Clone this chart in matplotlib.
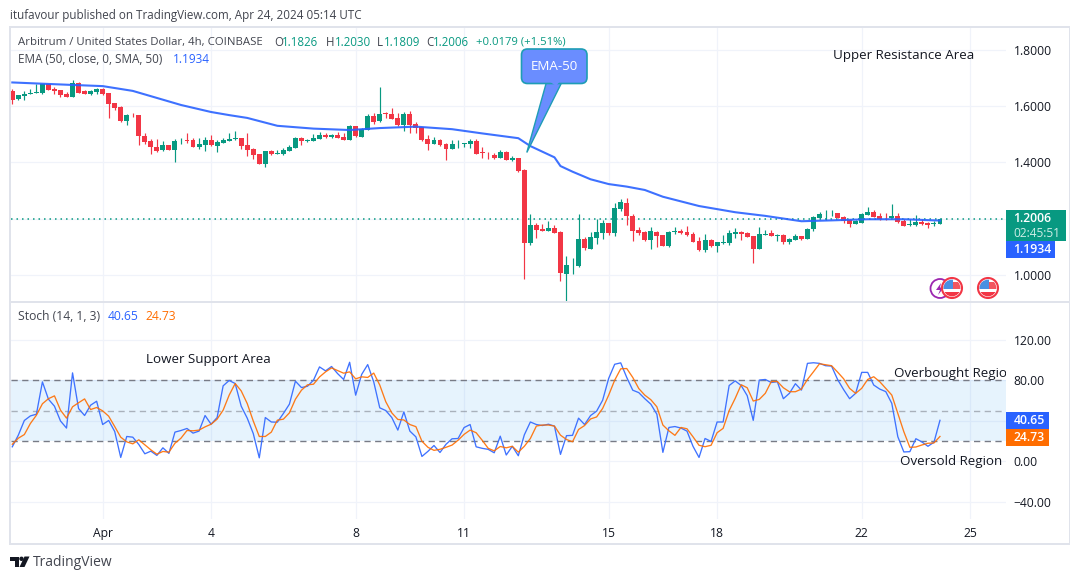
import matplotlib
matplotlib.use("Agg")
import matplotlib.pyplot as plt
from matplotlib.patches import FancyBboxPatch, Polygon, Circle, Rectangle
import numpy as np

plt.rcParams['font.family'] = ['Open Sans', 'DejaVu Sans']

opens = [1.653,1.625,1.637,1.644,1.647,1.646,1.678,1.660,1.657,1.643,
 1.632,1.682,1.653,1.643,1.650,1.660,1.646,1.611,1.596,1.547,
 1.570,1.568,1.494,1.476,1.454,1.444,1.462,1.444,1.475,1.478,
 1.478,1.454,1.462,1.478,1.458,1.469,1.476,1.483,1.486,1.462,
 1.447,1.430,1.394,1.440,1.430,1.430,1.440,1.451,1.486,1.476,
 1.476,1.483,1.497,1.490,1.497,1.490,1.479,1.529,1.491,1.516,
 1.566,1.548,1.575,1.573,1.558,1.533,1.573,1.537,1.526,1.484,
 1.466,1.480,1.466,1.448,1.465,1.467,1.466,1.477,1.436,1.431,
 1.427,1.416,1.438,1.410,1.417,1.373,1.115,1.178,1.163,1.156,
 1.167,1.153,1.004,1.034,1.032,1.128,1.092,1.131,1.149,1.185,
 1.149,1.234,1.256,1.210,1.160,1.153,1.124,1.153,1.142,1.103,
 1.153,1.156,1.152,1.145,1.120,1.088,1.124,1.102,1.113,1.113,
 1.145,1.152,1.149,1.138,1.092,1.141,1.149,1.139,1.141,1.117,
 1.124,1.138,1.127,1.163,1.202,1.215,1.215,1.220,1.205,1.195,
 1.180,1.184,1.212,1.223,1.209,1.204,1.202,1.209,1.191,1.177,
 1.177,1.188,1.184,1.180,1.1826]
highs = [1.660,1.639,1.653,1.660,1.678,1.679,1.680,1.667,1.657,1.650,
 1.693,1.685,1.657,1.657,1.664,1.664,1.646,1.611,1.600,1.572,
 1.575,1.568,1.504,1.483,1.483,1.476,1.462,1.483,1.485,1.503,
 1.485,1.485,1.489,1.496,1.478,1.485,1.503,1.510,1.486,1.504,
 1.451,1.430,1.440,1.444,1.444,1.451,1.462,1.490,1.490,1.483,
 1.501,1.508,1.504,1.501,1.508,1.504,1.533,1.529,1.523,1.573,
 1.577,1.669,1.580,1.594,1.576,1.580,1.584,1.544,1.526,1.498,
 1.491,1.484,1.470,1.480,1.480,1.470,1.484,1.484,1.456,1.438,
 1.434,1.443,1.441,1.423,1.417,1.376,1.217,1.184,1.180,1.191,
 1.176,1.155,1.068,1.059,1.217,1.134,1.154,1.198,1.194,1.185,
 1.256,1.270,1.273,1.217,1.171,1.156,1.171,1.156,1.142,1.156,
 1.171,1.163,1.173,1.152,1.134,1.145,1.127,1.117,1.141,1.159,
 1.166,1.156,1.152,1.138,1.170,1.159,1.159,1.145,1.145,1.131,
 1.145,1.138,1.166,1.209,1.223,1.230,1.230,1.220,1.209,1.198,
 1.195,1.220,1.241,1.230,1.220,1.220,1.252,1.220,1.198,1.198,
 1.212,1.198,1.188,1.191,1.2030]
lows = [1.607,1.621,1.621,1.644,1.647,1.643,1.657,1.643,1.632,1.632,
 1.632,1.646,1.643,1.639,1.643,1.639,1.557,1.586,1.543,1.533,
 1.561,1.462,1.465,1.430,1.437,1.440,1.444,1.401,1.465,1.469,
 1.454,1.447,1.440,1.458,1.437,1.469,1.476,1.479,1.447,1.423,
 1.412,1.394,1.383,1.426,1.430,1.426,1.440,1.451,1.462,1.472,
 1.476,1.483,1.486,1.486,1.486,1.479,1.479,1.490,1.491,1.516,
 1.537,1.544,1.558,1.555,1.530,1.512,1.505,1.505,1.477,1.445,
 1.466,1.458,1.409,1.448,1.451,1.455,1.451,1.431,1.417,1.413,
 1.413,1.416,1.409,1.406,1.366,0.986,1.108,1.131,1.158,1.156,
 1.149,0.980,0.909,1.004,1.030,1.089,1.092,1.110,1.128,1.142,
 1.139,1.227,1.178,1.121,1.142,1.121,1.092,1.100,1.103,1.100,
 1.146,1.146,1.138,1.117,1.085,1.081,1.099,1.081,1.110,1.106,
 1.131,1.124,1.134,1.042,1.092,1.141,1.138,1.120,1.110,1.110,
 1.124,1.124,1.127,1.156,1.198,1.195,1.209,1.202,1.184,1.170,
 1.180,1.184,1.212,1.205,1.195,1.195,1.202,1.184,1.173,1.173,
 1.173,1.177,1.166,1.173,1.1809]
closes = [1.621,1.639,1.644,1.646,1.650,1.678,1.657,1.653,1.639,1.632,
 1.682,1.646,1.643,1.653,1.660,1.643,1.607,1.593,1.547,1.568,
 1.567,1.494,1.472,1.454,1.440,1.462,1.444,1.476,1.477,1.476,
 1.454,1.465,1.478,1.462,1.472,1.478,1.483,1.485,1.458,1.444,
 1.426,1.394,1.440,1.430,1.432,1.444,1.454,1.486,1.476,1.479,
 1.486,1.497,1.490,1.497,1.486,1.479,1.529,1.494,1.519,1.566,
 1.544,1.573,1.573,1.555,1.533,1.573,1.533,1.523,1.480,1.467,
 1.480,1.462,1.448,1.466,1.467,1.469,1.477,1.431,1.433,1.429,
 1.416,1.438,1.409,1.417,1.369,1.113,1.176,1.160,1.158,1.167,
 1.149,1.008,1.036,1.036,1.127,1.096,1.134,1.153,1.185,1.149,
 1.238,1.259,1.208,1.156,1.149,1.124,1.156,1.139,1.103,1.153,
 1.155,1.149,1.141,1.117,1.088,1.124,1.102,1.117,1.117,1.149,
 1.152,1.145,1.134,1.092,1.145,1.145,1.138,1.143,1.117,1.127,
 1.138,1.127,1.163,1.205,1.216,1.217,1.217,1.202,1.191,1.180,
 1.191,1.216,1.223,1.205,1.198,1.202,1.209,1.188,1.173,1.180,
 1.188,1.180,1.177,1.184,1.2006]

ema_bars = [0,9,15,20,24,28,33,36,39,44,50,56,61,67,73,78,84,86,90,91,93,96,99,102,105,108,114,117,120,125,131,136,142,148,154]
ema_vals = [1.684,1.676,1.671,1.654,1.629,1.604,1.579,1.568,1.558,1.530,1.520,1.515,1.522,1.527,1.518,1.503,1.486,
            1.458,1.418,1.387,1.367,1.340,1.323,1.314,1.302,1.278,1.245,1.234,1.223,1.210,1.191,1.194,1.198,1.198,1.1934]

stoch_k = [14.5,26,40.5,45,46.7,78.6,61.5,54.6,40,33,
 87.5,52.3,45.4,55.6,59.5,36.5,40.5,29.6,4,24.7,
 24,16.8,7.6,10.2,6,13.5,8,29,30.6,32.6,
 28,30,45.4,36.8,43.4,74.7,80,77,54.6,42.8,
 27.6,3.6,43.4,39,38.8,47.4,56.6,79.3,73,74.3,
 80.3,93.4,89.5,93.8,86.8,81,98,65.5,86,95.7,
 78.6,53,50.3,43.4,31,49,30,24.3,5,10,
 15.8,8.9,17,22.4,22.7,33.5,36.5,14.5,13,12,
 8.6,25,6.4,15,5.7,26.3,39,36.5,35.5,36.8,
 34.9,7,25.5,25.8,42.8,36.5,45.4,49.7,60.5,82,
 96,97.4,83,70.4,68,62,56.6,46.7,9,33.6,
 34.5,33,30,15,4,22.7,19.8,39,39,75,
 79.6,75,65,40.6,80.4,81,78,78.8,62,67.3,
 76.8,70.5,96.9,97.5,96.9,94.6,94.2,81,71,62,
 67.3,88,88,75.5,71.5,69,57.4,24.5,9.4,9.7,
 22.5,19.3,15,19,40.65]
stoch_d = [17,23,26.6,37.5,45.7,57,62,64.8,50.7,42.8,
 54,58,61.8,51.3,53.3,50,44.7,34.5,24,19.4,
 17.4,21.4,16.4,11.5,7.2,9.9,9.2,18,23,30.6,
 30.3,31,34.2,36.8,41.8,50.7,65.5,77,69.7,57.2,
 40,24.7,24.7,29,40.8,41.8,48,61.5,70.4,75.7,
 76.3,83.5,88.5,92.4,89.8,87.2,88.5,81.6,83.6,83,
 87.3,75.5,59,48,41.5,41,36.5,34.4,20,14,
 11,12,14,16.2,21,26.8,31,28.4,21,13,
 10.5,14.8,13.5,15,9.2,15,22.7,35,36,36,
 35,26,21.7,19.5,31.6,35.5,42,44,52.4,65.5,
 80.3,91.5,91.8,83,72,65.5,61,54,36,30.3,
 25.8,33.6,32.3,24.4,16,14.6,16,28.4,32.7,50.2,
 62.3,75.8,72.8,59.7,61.3,67.3,79,79,72.8,68.9,
 68.9,71.5,81,88.6,96.5,95.5,94.6,88.3,81.7,72.2,
 67.3,72.2,81,83.7,78.8,72.2,65.6,47.5,29.4,14,
 14.3,16.3,18,18.3,24.73]

price_ticks = [1.0, 1.2, 1.4, 1.6, 1.8]
price_tick_labels = ["1.0000", "", "1.4000", "1.6000", "1.8000"]
stoch_ticks = [120, 80, 40, 0, -40]
stoch_tick_labels = ["120.00", "80.00", "", "0.00", "\u221240.00"]
date_bars = [15, 33, 57, 75, 99, 117, 141, 159]
date_labels = ["Apr", "4", "8", "11", "15", "18", "22", "25"]
last_price = 1.2006

UP, DOWN = "#089981", "#f23645"
GRID, FRAME, TXT = "#f0f3fa", "#e0e3eb", "#131722"
W, H = 1080, 579
LEFT, RIGHT = 11, 1006
XLIM = (-0.216, 164.96)

fig = plt.figure(figsize=(W/100, H/100), dpi=100, facecolor="white")

def pane(top, bottom, ylim):
    ax = fig.add_axes([LEFT/W, 1-bottom/H, (RIGHT-LEFT)/W, (bottom-top)/H])
    ax.set_xlim(*XLIM)
    ax.set_ylim(*ylim)
    for s in ax.spines.values():
        s.set_visible(False)
    ax.yaxis.tick_right()
    ax.set_axisbelow(True)
    ax.grid(True, color=GRID, lw=0.9)
    ax.set_xticks(date_bars)
    ax.tick_params(length=0, labelsize=8.7, labelcolor=TXT, pad=5.6)
    return ax

ax = pane(27, 301, (0.9076, 1.881))
st = pane(302, 519, (-56.8, 157.5))

# candles
n = len(closes)
bars = np.arange(n)
o, h, l, c = map(np.array, (opens, highs, lows, closes))
cols = [UP if cc >= oo else DOWN for oo, cc in zip(o, c)]
ax.vlines(bars, l, h, colors=cols, lw=0.85, zorder=3)
ax.bar(bars, np.abs(c-o), bottom=np.minimum(o, c), width=0.82, color=cols, linewidth=0, zorder=4)
ax.plot(ema_bars, ema_vals, color="#2962ff", lw=1.5, zorder=5, alpha=0.9)
ax.axhline(last_price, color=UP, lw=1.1, ls=(0, (1, 2.6)), zorder=2)
ax.set_yticks(price_ticks, price_tick_labels)
ax.set_xticklabels([])

# stochastic
st.axhspan(20, 80, color="#2196f3", alpha=0.11, lw=0, zorder=1)
for lev, a in ((80, 1), (50, .55), (20, 1)):
    st.axhline(lev, color="#787b86", lw=1.0, ls=(0, (4.5, 3.2)), alpha=a, zorder=2)
st.plot(bars, stoch_k, color="#3f72ff", lw=0.95, zorder=3)
st.plot(bars, stoch_d, color="#ff6d00", lw=0.95, zorder=4, alpha=.9)
st.set_yticks(stoch_ticks, stoch_tick_labels)
st.set_xticklabels(date_labels)
st.tick_params(axis='x', pad=5.6, labelsize=8.7)

# overlay in pixel units for the chart frame and annotations
ov = fig.add_axes([0, 0, 1, 1], zorder=10)
ov.set_xlim(0, W)
ov.set_ylim(H, 0)
ov.axis("off")
ov.patch.set_alpha(0)

for x0, y0, x1, y1 in ((9, 25.5, 1070, 27.5), (9, 543, 1070, 545), (9, 25.5, 11, 545),
                       (1068.5, 25.5, 1070, 545), (11, 300.5, 1069, 302.5)):
    ov.add_patch(Rectangle((x0, y0), x1-x0, y1-y0, fc=FRAME, ec="none", zorder=1))

def t(x, y, s, color="#42454f", size=8.5, **kw):
    kw.setdefault("va", "center")
    return ov.text(x, y, s, color=color, fontsize=size, **kw)

t(10, 15, "itufavour published on TradingView.com, Apr 24, 2024 05:14 UTC", size=8.35)
t(18, 42, "Arbitrum / United States Dollar, 4h, COINBASE", size=8.17)
for x, lab, vx, val in ((274, "O", 281.5, "1.1826"), (325.5, "H", 334.5, "1.2030"),
                        (377, "L", 384, "1.1809"), (426, "C", 433, "1.2006")):
    t(x, 42, lab, size=8.3)
    t(vx, 42, val, color=UP, size=8.3)
t(476, 42, "+0.0179 (+1.51%)", color=UP, size=8.1)
t(18, 59.6, "EMA (50, close, 0, SMA, 50)", size=8.5)
t(172.5, 59.6, "1.1934", color="#2962ff", size=8.5)
t(18, 316.6, "Stoch (14, 1, 3)", size=8.7)
t(108, 316.6, "40.65", color="#2962ff", size=8.7)
t(145, 316.6, "24.73", color="#ff6d00", size=8.7)

t(833, 55.2, "Upper Resistance Area", color=TXT, size=9.6)
t(146, 359.2, "Lower Support Area", color=TXT, size=9.6)
ob = t(894, 373.2, "Overbought Region", color=TXT, size=9.6)
ob.set_clip_path(Rectangle((0, 0), RIGHT, H, transform=ov.transData))
ob.set_clip_on(True)
t(900, 461.2, "Oversold Region", color=TXT, size=9.6)

# EMA-50 callout
ov.add_patch(Polygon([(546.5, 82), (562, 82), (526.8, 152.5)], closed=True, fc="#6a8dff", ec="#1e9db5", lw=1.0, zorder=6))
ov.add_patch(FancyBboxPatch((525, 52.5), 58.5, 27.5, boxstyle="round,pad=3.5,rounding_size=6",
                            fc="#6a8dff", ec="#1e9db5", lw=1.2, zorder=6))
ov.add_patch(Polygon([(547.5, 80), (561, 80), (556, 86)], closed=True, fc="#6a8dff", ec="none", zorder=7))
t(554, 66, "EMA-50", color="white", size=9.6, ha="center", zorder=8)

# price-axis value tags
def tag(x0, y0, x1, y1, col, s, tc="white", size=8.8, weight="semibold", lx=1013.5):
    ov.add_patch(Rectangle((x0, y0), x1-x0, y1-y0, fc=col, ec="none", zorder=4))
    t(lx, (y0+y1)/2, s, color=tc, size=size, weight=weight, zorder=5)

tag(1006, 210, 1066, 226, UP, "1.2006")
tag(1006, 226, 1066, 241, UP, "02:45:51", tc="#cfeee7", size=8.6, weight="normal")
tag(1006, 241, 1055, 258, "#2962ff", "1.1934")
tag(1006, 412, 1049, 429, "#2962ff", "40.65")
tag(1006, 429, 1049, 446, "#ff6d00", "24.73")

# event icons
ov.add_patch(Circle((940, 288.5), 9.5, fc="white", ec="#9c27b0", lw=1.3, zorder=6))
ov.add_patch(Polygon([(941, 283), (936, 290), (940, 290), (938, 295), (944, 287.5), (940, 287.5)],
                     fc="#9c27b0", ec="none", zorder=6))
for cx in (952, 988):
    disc = Circle((cx, 288), 10, fc="white", ec="#f23645", lw=1.5, zorder=7)
    ov.add_patch(disc)
    inner = Circle((cx, 288), 8.4, transform=ov.transData)
    for (rx, ry, rw, rh, col, z) in ((cx-9, 282, 18, 7, "#f2555f", 8), (cx-9, 289, 18, 2.5, "white", 8),
                                     (cx-9, 291.5, 18, 5, "#f23645", 8), (cx-9, 279, 9.5, 10, "#4a90e2", 9)):
        r = Rectangle((rx, ry), rw, rh, fc=col, ec="none", zorder=z)
        ov.add_patch(r)
        r.set_clip_path(inner)

# brand mark
ov.add_patch(Polygon([(10, 556.5), (19, 556.5), (19, 567), (14.5, 567), (14.5, 561), (10, 561)], fc="#131722", ec="none"))
ov.add_patch(Circle((21.5, 558.8), 2.2, fc="#131722", ec="none"))
ov.add_patch(Polygon([(24.5, 556.5), (29.5, 556.5), (24.5, 567), (19.5, 567)], fc="#131722", ec="none"))
t(33, 562, "TradingView", color="#42454f", size=10)

fig.savefig("out.png", dpi=100, facecolor="white")
